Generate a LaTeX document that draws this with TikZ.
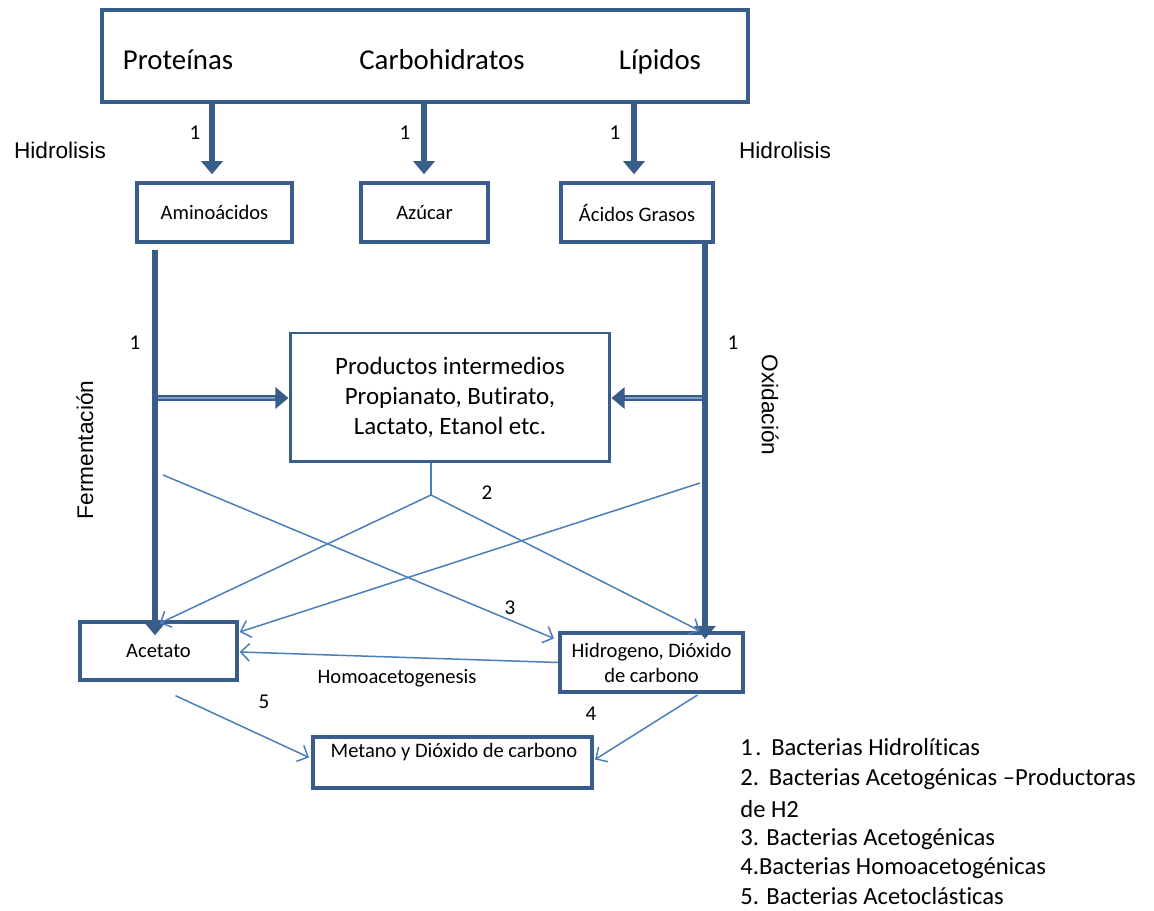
\documentclass[tikz,border=0pt]{standalone}
\usepackage{fontspec}
\setmainfont{Carlito}[Ligatures=NoCommon]
\newfontfamily\arialfont{Liberation Sans}
\usetikzlibrary{arrows.meta,calc}
\definecolor{boxblue}{HTML}{385D8A}
\definecolor{linkblue}{HTML}{4A7EBB}
\definecolor{stripe}{HTML}{7F9FCB}

\begin{document}
\begin{tikzpicture}[x=0.02cm,y=-0.02cm,
  box/.style={draw=boxblue,line width=1.9pt,inner sep=0pt,align=center,
              font=\fontsize{11.7}{14.2}\selectfont},
  bigarrow/.style={draw=boxblue,line width=3.4pt,-{Triangle[width=12pt,length=7.5pt]}},
  stripeline/.style={draw=stripe,line width=1.1pt},
  link/.style={draw=linkblue,line width=0.85pt,-{Straight Barb[length=5pt,width=10pt]}},
  plainlink/.style={draw=linkblue,line width=0.85pt},
  num/.style={font=\fontsize{12}{14}\selectfont},
  sidelabel/.style={font=\arialfont\fontsize{12.9}{15}\selectfont},
  title/.style={anchor=base,font=\fontsize{16.4}{19}\selectfont},
  legend/.style={anchor=west,inner sep=0pt,font=\fontsize{14}{16}\selectfont}]
\useasboundingbox (0,0) rectangle (1154,911);

% substrates
\node[box,line width=2.3pt,minimum width=12.92cm,minimum height=1.84cm] (top) at (425,56) {};
\node[title] (prot) at (178,70) {Proteínas};
\node[title] (carb) at (442,70) {Carbohidratos};
\node[title] (lip) at (660,70) {Lípidos};

% hydrolysis products
\node[box,minimum width=3.10cm,minimum height=1.18cm] (amino) at (214.5,212.5) {Aminoácidos};
\node[box,minimum width=2.54cm,minimum height=1.18cm] (azucar) at (424.5,212.5) {Azúcar};
\node[box,minimum width=3.04cm,minimum height=1.18cm] (acidos) at (637,212.5) {Ácidos Grasos};

% intermediates and end products
\node[box,line width=1.7pt,minimum width=6.4cm,minimum height=2.58cm,
      font=\fontsize{14.2}{17}\selectfont] (prod) at (450,397.5)
      {Productos intermedios\\Propianato, Butirato,\\Lactato, Etanol etc.};
\node[box,minimum width=3.14cm,minimum height=1.16cm] (acetato) at (158.5,651) {Acetato};
\node[box,line width=2.3pt,minimum width=3.66cm,minimum height=1.18cm] (hidro) at (651.5,662.5)
      {Hidrogeno, Dióxido\\de carbono};
\node[box,line width=2.3pt,minimum width=5.58cm,minimum height=1.02cm] (metano) at (452.5,762.5) {};
\node[font=\fontsize{11.7}{14}\selectfont] (metanotxt) at (454,752) {Metano y Dióxido de carbono};

% hydrolysis arrows
\draw[bigarrow,shorten >=4pt] (top.south -| 212,0) -- (amino.north -| 212,0);
\draw[bigarrow,shorten >=4pt] (top.south -| 424,0) -- (azucar.north -| 424,0);
\draw[bigarrow,shorten >=4pt] (top.south -| 634,0) -- (acidos.north -| 634,0);
\node[num] (n1a) at (195,133) {1};
\node[num] (n1b) at (405,133) {1};
\node[num] (n1c) at (615,133) {1};
\node[sidelabel] (hidL) at (60,150) {Hidrolisis};
\node[sidelabel] (hidR) at (785,150) {Hidrolisis};

% fermentation and oxidation trunks
\coordinate (fermtop) at (155,250);
\coordinate (oxtop) at (705,242);
\draw[bigarrow] (fermtop) -- ($(fermtop |- acetato.north)+(0,15)$);
\draw[bigarrow] (oxtop) -- ($(oxtop |- hidro.north)+(0,8)$);
\node[num] (n1d) at (135,343) {1};
\node[num] (n1e) at (733,343) {1};
\node[sidelabel,rotate=90] (ferm) at (85,450) {Fermentación};
\node[sidelabel,rotate=-90] (oxid) at (770,405) {Oxidación};

% side feeds into the intermediates box
\coordinate (feedL) at (158,398);
\coordinate (feedR) at (702,398);
\draw[bigarrow,line width=3.2pt] (feedL) -- (feedL -| prod.west);
\draw[stripeline] (feedL) -- ($(feedL -| prod.west)+(-14,0)$);
\draw[bigarrow,line width=3.2pt] (feedR) -- (feedR -| prod.east);
\draw[stripeline] (feedR) -- ($(feedR -| prod.east)+(14,0)$);

% acetogenic links
\coordinate (junc) at (431,495);
\coordinate (fermside) at (163,475);
\coordinate (oxside) at (700,483);
\draw[plainlink] (junc |- prod.south) -- (junc);
\draw[link] (junc) -- ($(acetato.north)+(1,3)$);
\draw[link] (junc) -- ($(hidro.north east)+(-45,0)$);
\draw[link] (fermside) -- ($(hidro.west)+(-4,-24)$);
\draw[link] (oxside) -- ($(acetato.east)+(1,-19)$);
\node[num] (n2) at (487,493) {2};
\node[num] (n3) at (510,608) {3};

% homoacetogenesis
\draw[link] (hidro.west) -- ($(acetato.east)+(1,1)$);
\node[font=\fontsize{11.7}{14}\selectfont] (homo) at (397,678) {Homoacetogenesis};

% methanogenesis
\draw[link] ($(acetato.south)+(17,14)$) -- ($(metano.west)+(-2,-5)$);
\draw[link] ($(hidro.south)+(46,1)$) -- ($(metano.east)+(1,-3)$);
\node[num] (n5) at (264,702) {5};
\node[num] (n4) at (591,714) {4};

% legend
\node[legend] (l1) at (740,747) {1\kern0.1em.\kern0.4em Bacterias Hidrolíticas};
\node[legend] (l2) at (740,779) {2.\kern0.4em Bacterias Acetogénicas –Productoras};
\node[legend] (l2b) at (740,809) {de H2};
\node[legend] (l3) at (740,839) {3. Bacterias Acetogénicas};
\node[legend] (l4) at (740,868) {4.Bacterias Homoacetogénicas};
\node[legend] (l5) at (740,896) {5. Bacterias Acetoclásticas};
\end{tikzpicture}
\end{document}
